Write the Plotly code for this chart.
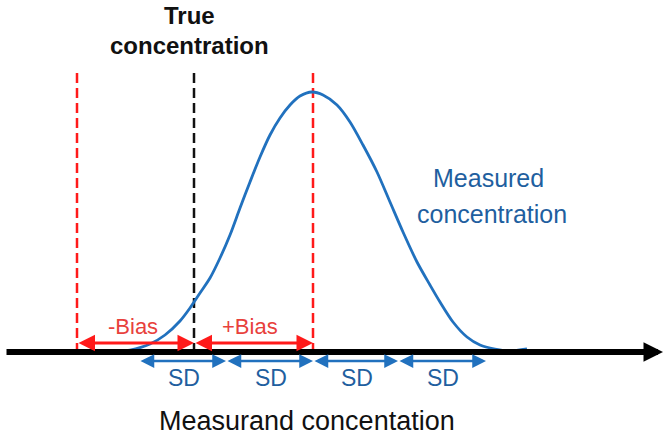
import plotly.graph_objects as go

# ---- data (x: concentration units, y: relative frequency; axis baseline at y=0) ----
x_bias_low = 77          # left red dashed line (-Bias limit)
x_true = 194             # true concentration (black dashed)
x_mean = 313             # mean of measured concentration (red dashed)
dash_top = 279           # top of the vertical dashed lines
sd_bounds = [139, 226, 313, 398, 486]
sd_labels = ["SD", "SD", "SD", "SD"]

curve_x = [92, 110, 130, 150, 165, 180, 190, 200, 210, 220, 230, 240, 250, 260, 270, 280,
           290, 300, 312, 323, 337, 350, 363, 377, 390, 403, 417, 430, 440, 453,
           467, 480, 495, 510, 527]
curve_y = [1, 0, 2, 8, 17, 31, 44, 59, 74, 94, 117, 144, 170, 195, 217, 234,
           247, 256, 260, 257, 247, 230, 207, 180, 150, 120, 90, 67, 50, 30,
           15, 7, 3, 1, 3]

axis_start, axis_end = 5, 663
bias_arrow_y = 9
sd_arrow_y = -9

RED = "#FF1A1A"
RED_TXT = "#E8413C"
BLUE = "#2171BE"
BLUE_TXT = "#1F5F9F"
FONT = "Liberation Sans, Arial, sans-serif"

fig = go.Figure()

# vertical dashed lines
for xv, col in [(x_bias_low, RED), (x_true, "#111111"), (x_mean, RED)]:
    fig.add_trace(go.Scatter(x=[xv, xv], y=[dash_top, 0], mode="lines",
                             line=dict(color=col, width=2.5, dash="10px,5px"),
                             hoverinfo="skip", showlegend=False))

# bell curve
fig.add_trace(go.Scatter(x=curve_x, y=curve_y, mode="lines",
                         line=dict(color=BLUE, width=2.8, shape="spline", smoothing=0.8),
                         hoverinfo="skip", showlegend=False))

annotations = []

# main horizontal axis arrow
annotations.append(dict(x=axis_end, y=0, ax=axis_start, ay=0, xref="x", yref="y",
                        axref="x", ayref="y", text="", showarrow=True,
                        arrowhead=2, arrowsize=0.65, arrowwidth=6, arrowcolor="#000000",
                        standoff=0))

# bias arrows
for a, b in [(x_bias_low, x_true), (x_true, x_mean)]:
    annotations.append(dict(x=b, y=bias_arrow_y, ax=a, ay=bias_arrow_y, xref="x", yref="y",
                            axref="x", ayref="y", text="", showarrow=True,
                            arrowhead=2, startarrowhead=2, arrowside="end+start",
                            arrowsize=1.1, startarrowsize=1.1, arrowwidth=3, arrowcolor=RED))

# SD arrows
for a, b in zip(sd_bounds[:-1], sd_bounds[1:]):
    annotations.append(dict(x=b, y=sd_arrow_y, ax=a, ay=sd_arrow_y, xref="x", yref="y",
                            axref="x", ayref="y", text="", showarrow=True,
                            arrowhead=2, startarrowhead=2, arrowside="end+start",
                            arrowsize=1.1, startarrowsize=1.1, arrowwidth=2.5, arrowcolor=BLUE))

# SD labels
for a, b, lab in zip(sd_bounds[:-1], sd_bounds[1:], sd_labels):
    annotations.append(dict(x=(a + b) / 2 + 1, y=-26, text=lab, showarrow=False,
                            font=dict(family=FONT, size=23, color=BLUE_TXT)))

# bias labels
annotations.append(dict(x=133, y=26, text="-Bias", showarrow=False,
                        font=dict(family=FONT, size=22, color=RED_TXT)))
annotations.append(dict(x=250, y=26, text="+Bias", showarrow=False,
                        font=dict(family=FONT, size=22, color=RED_TXT)))

# true concentration title
annotations.append(dict(x=189, y=337, text="<b>True</b>", showarrow=False,
                        font=dict(family=FONT, size=24, color="#111111")))
annotations.append(dict(x=189, y=307, text="<b>concentration</b>", showarrow=False,
                        font=dict(family=FONT, size=24, color="#111111")))

# measured concentration label
annotations.append(dict(x=488, y=174, text="Measured", showarrow=False,
                        font=dict(family=FONT, size=25, color=BLUE_TXT)))
annotations.append(dict(x=492, y=138, text="concentration", showarrow=False,
                        font=dict(family=FONT, size=25, color=BLUE_TXT)))

# x-axis title
annotations.append(dict(x=307, y=-69, text="Measurand concentation", showarrow=False,
                        font=dict(family=FONT, size=27, color="#111111")))

fig.update_layout(
    width=668, height=436,
    margin=dict(l=0, r=0, t=0, b=0),
    paper_bgcolor="white", plot_bgcolor="white",
    xaxis=dict(range=[0, 668], visible=False, fixedrange=True),
    yaxis=dict(range=[-84, 352], visible=False, fixedrange=True),
    annotations=annotations,
    showlegend=False,
)

fig.write_html("out.html", config={"displayModeBar": False},
               post_script="document.body.style.margin='0';document.body.style.overflow='hidden';")
